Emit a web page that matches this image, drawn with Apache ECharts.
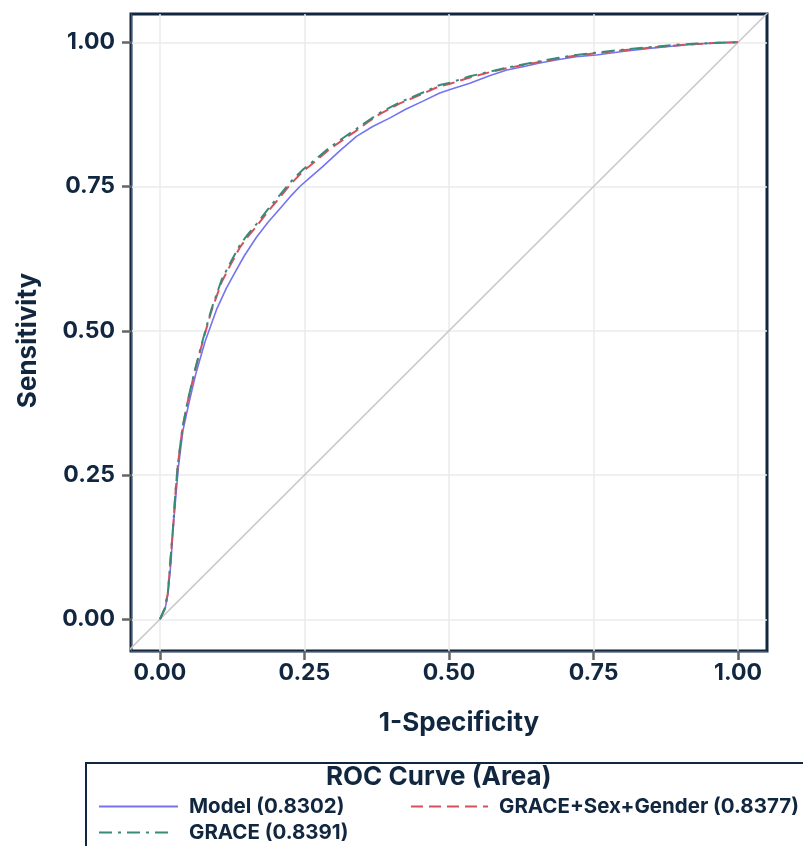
<!DOCTYPE html>
<html>
<head>
<meta charset="utf-8">
<script src="https://cdn.jsdelivr.net/npm/echarts@6/dist/echarts.min.js"></script>
<style>
  html, body { margin: 0; padding: 0; background: #fff; }
  #roc { width: 803px; height: 846px; }
</style>
</head>
<body>
<div id="roc"></div>
<script>
// ROC 曲线数据
var modelFpr = [0, 0.009, 0.014, 0.019, 0.023, 0.028, 0.032, 0.040, 0.050, 0.062, 0.078, 0.087, 0.098, 0.115, 0.127, 0.146, 0.167, 0.187, 0.207, 0.225, 0.242, 0.260, 0.282, 0.310, 0.340, 0.368, 0.398, 0.425, 0.455, 0.484, 0.502, 0.536, 0.570, 0.600, 0.630, 0.657, 0.690, 0.720, 0.755, 0.800, 0.842, 0.885, 0.929, 0.965, 1.0]
var modelTpr = [0, 0.018, 0.045, 0.097, 0.160, 0.218, 0.264, 0.328, 0.374, 0.425, 0.481, 0.506, 0.537, 0.574, 0.596, 0.630, 0.662, 0.688, 0.711, 0.732, 0.750, 0.766, 0.785, 0.811, 0.837, 0.854, 0.869, 0.884, 0.898, 0.912, 0.918, 0.929, 0.942, 0.952, 0.958, 0.964, 0.970, 0.975, 0.978, 0.984, 0.989, 0.993, 0.997, 0.999, 1.0]

var graceFpr = [0, 0.009, 0.014, 0.018, 0.023, 0.027, 0.031, 0.039, 0.048, 0.060, 0.075, 0.089, 0.107, 0.123, 0.138, 0.152, 0.167, 0.188, 0.208, 0.225, 0.248, 0.2595, 0.294, 0.318, 0.340, 0.360, 0.381, 0.415, 0.455, 0.484, 0.502, 0.536, 0.570, 0.600, 0.630, 0.657, 0.690, 0.720, 0.755, 0.800, 0.842, 0.885, 0.929, 0.965, 1.0]
var graceTpr = [0, 0.020, 0.048, 0.100, 0.163, 0.222, 0.268, 0.332, 0.378, 0.430, 0.487, 0.537, 0.589, 0.620, 0.648, 0.667, 0.685, 0.712, 0.736, 0.757, 0.780, 0.789, 0.818, 0.835, 0.850, 0.864, 0.878, 0.896, 0.913, 0.926, 0.930, 0.941, 0.949, 0.956, 0.962, 0.967, 0.973, 0.978, 0.982, 0.987, 0.991, 0.995, 0.998, 0.999, 1.0]

var sexGenderFpr = graceFpr
var sexGenderTpr = [0, 0.020, 0.047, 0.099, 0.162, 0.221, 0.267, 0.331, 0.377, 0.428, 0.485, 0.534, 0.585, 0.616, 0.644, 0.663, 0.681, 0.708, 0.732, 0.753, 0.777, 0.786, 0.815, 0.832, 0.847, 0.862, 0.876, 0.894, 0.911, 0.924, 0.928, 0.939, 0.948, 0.955, 0.961, 0.966, 0.972, 0.977, 0.981, 0.986, 0.990, 0.994, 0.997, 0.999, 1.0]

var seriesNames = ['Model (0.8302)', 'GRACE+Sex+Gender (0.8377)', 'GRACE (0.8391)']
var tickValues = [0, 0.25, 0.5, 0.75, 1]
var chanceLine = [[-0.1, -0.1], [1.1, 1.1]]

function zip (xs, ys) {
  return xs.map(function (x, i) { return [x, ys[i]] })
}

var navy = '#11263f'
var fontFamily = 'Inter, Lato, sans-serif'

var chart = echarts.init(document.getElementById('roc'))

function makeAxis (extra) {
  return Object.assign({
    type: 'value',
    nameLocation: 'middle',
    axisLine: { show: true, onZero: false },
    axisTick: {
      show: true,
      customValues: tickValues,
      length: 9,
      lineStyle: { color: '#666', width: 2.5 }
    },
    splitLine: { show: true, lineStyle: { color: '#ebebeb', width: 1.5 } }
  }, extra)
}

function tickLabel (margin) {
  return {
    customValues: tickValues,
    formatter: function (v) { return v.toFixed(2) },
    margin: margin,
    color: navy,
    fontSize: 23,
    fontWeight: 'bold',
    fontFamily: fontFamily
  }
}

function nameStyle (padding) {
  return { color: navy, fontSize: 26, fontWeight: 'bold', fontFamily: fontFamily, padding: padding }
}

var legendText = { color: navy, fontSize: 20.5, fontWeight: 'bold', fontFamily: fontFamily, padding: [0, 0, 0, 6] }

var option = {
  backgroundColor: '#fff',
  animation: false,
  title: {
    text: 'ROC Curve (Area)',
    left: 326,
    top: 764,
    padding: 0,
    textStyle: { color: navy, fontSize: 26, fontWeight: 'bold', fontFamily: fontFamily }
  },
  legend: [
    {
      data: [seriesNames[0]],
      left: 98, top: 796, padding: 0,
      itemWidth: 79, itemHeight: 14,
      itemStyle: { opacity: 0 },
      textStyle: legendText
    },
    {
      data: [seriesNames[1]],
      left: 410, top: 796, padding: 0,
      itemWidth: 77, itemHeight: 14,
      itemStyle: { opacity: 0 },
      textStyle: legendText
    },
    {
      data: [seriesNames[2]],
      left: 98, top: 822, padding: 0,
      itemWidth: 75, itemHeight: 14,
      itemStyle: { opacity: 0 },
      textStyle: Object.assign({}, legendText, { padding: [0, 0, 0, 10] })
    }
  ],
  grid: {
    left: 131,
    right: 36,
    top: 14,
    bottom: 195,
    show: true,
    borderColor: navy,
    borderWidth: 3
  },
  xAxis: makeAxis({
    min: -0.05,
    max: 1.05,
    name: '1-Specificity',
    nameGap: 59,
    nameTextStyle: nameStyle([0, 0, 0, 20]),
    axisLabel: tickLabel(11)
  }),
  yAxis: makeAxis({
    min: -0.055,
    max: 1.049,
    name: 'Sensitivity',
    nameGap: 90,
    nameTextStyle: nameStyle([0, 16, 0, 0]),
    axisLabel: tickLabel(16)
  }),
  series: [
    {
      name: 'chance',
      type: 'line',
      data: chanceLine,
      symbol: 'none',
      silent: true,
      lineStyle: { color: '#c9c9c9', width: 1.5 },
      z: 1
    },
    {
      name: seriesNames[0],
      type: 'line',
      data: zip(modelFpr, modelTpr),
      symbol: 'none',
      lineStyle: { color: '#7474f2', width: 1.6 },
      itemStyle: { color: '#7474f2' },
      z: 2
    },
    {
      name: seriesNames[1],
      type: 'line',
      data: zip(sexGenderFpr, sexGenderTpr),
      symbol: 'none',
      lineStyle: { color: '#d6505e', width: 2, type: [12, 6] },
      itemStyle: { color: '#d6505e' },
      z: 3
    },
    {
      name: seriesNames[2],
      type: 'line',
      data: zip(graceFpr, graceTpr),
      symbol: 'none',
      lineStyle: { color: '#3a8a78', width: 2, type: [13, 6, 3, 6] },
      itemStyle: { color: '#3a8a78' },
      z: 4
    }
  ],
  graphic: [
    {
      type: 'rect',
      shape: { x: 86, y: 763, width: 760, height: 120 },
      style: { fill: 'none', stroke: navy, lineWidth: 2 },
      z: -1
    }
  ]
}

chart.setOption(option)
window.addEventListener('resize', function () {
  chart.resize()
})
</script>
</body>
</html>
